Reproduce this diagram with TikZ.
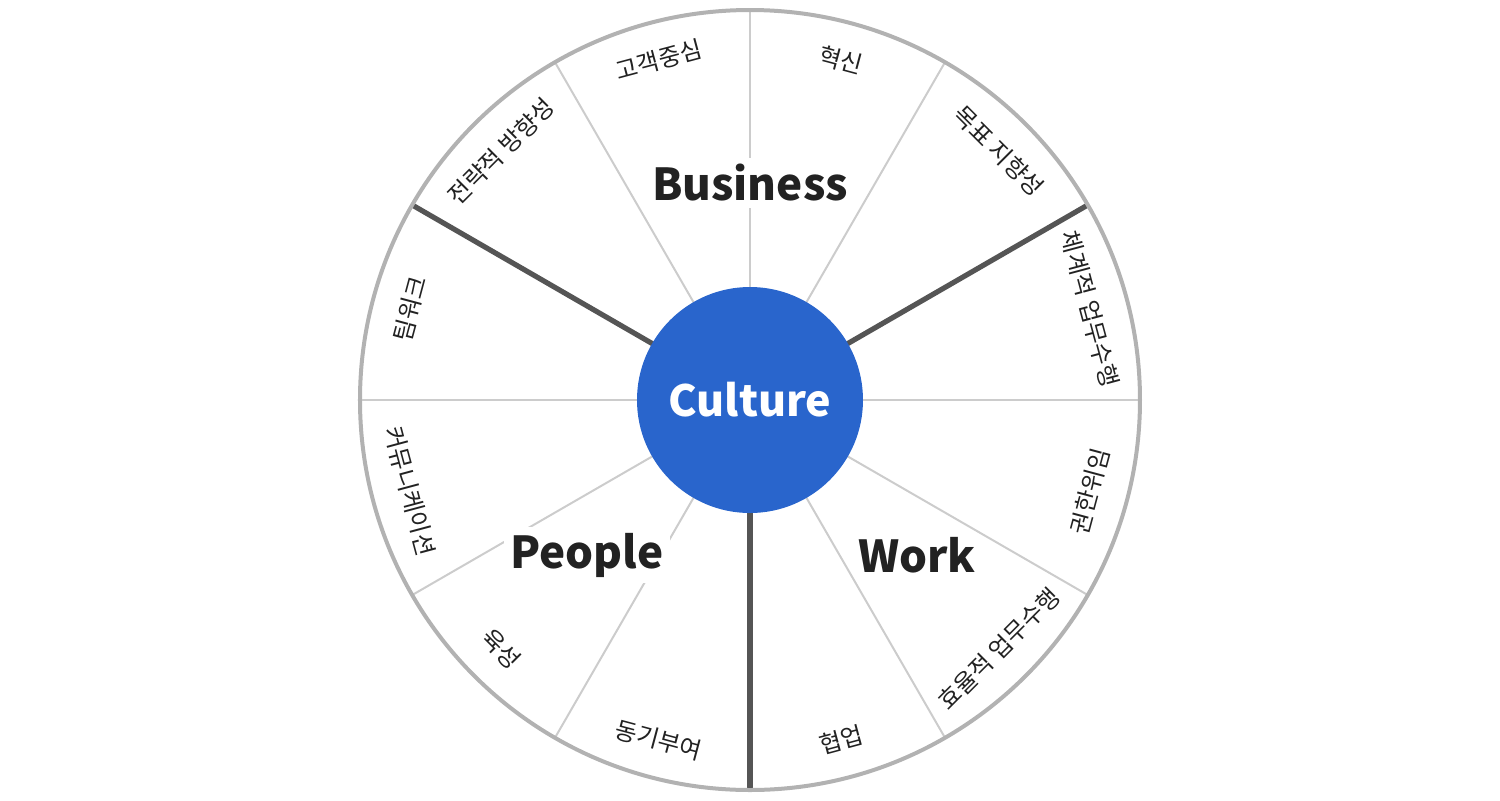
\documentclass[tikz,border=0pt]{standalone}
\usepackage{fontspec}
\setmainfont{Noto Sans CJK KR}
\newfontfamily\krfont{Noto Sans CJK KR}
\definecolor{hubblue}{RGB}{41,101,204}
\definecolor{rimgrey}{RGB}{178,178,178}
\definecolor{thingrey}{RGB}{204,204,204}
\definecolor{thickgrey}{RGB}{85,85,85}
\definecolor{txt}{RGB}{34,34,34}
\begin{document}
\begin{tikzpicture}[x=0.5pt,y=0.5pt,
  thin spoke/.style={draw=thingrey,line width=1pt},
  thick spoke/.style={draw=thickgrey,line width=2.6pt},
  rim/.style={draw=rimgrey,line width=2pt},
  lbl/.style={font=\krfont\fontsize{12}{14}\selectfont,text=txt,inner sep=0pt},
  group/.style={font=\krfont\bfseries\fontsize{22}{26}\selectfont,text=txt,fill=white,inner sep=3pt},
  hub/.style={circle,fill=hubblue,minimum size=113pt,inner sep=0pt,text=white,font=\krfont\bfseries\fontsize{21.5}{25}\selectfont}]
\useasboundingbox (-750,-400) rectangle (750,400);
\coordinate (o) at (0,0);
\foreach \a in {0,60,90,120,180,210,240,300,330}
  \draw[thin spoke] (o) -- (\a:390);
\node[group] (business) at (0,217) {Business};
\node[group] (people) at (-163,-155) {People};
\node[group,inner sep=0.5pt] (work) at (167,-155) {Work};
\foreach \a in {30,150,270}
  \draw[thick spoke] (o) -- (\a:390);
\draw[rim] (o) circle[radius=390];
\node[hub] (c) at (o) {Culture};
\foreach \a/\t [count=\i] in {105/고객중심, 75/혁신, 45/목표 지향성, 15/체계적 업무수행, 135/전략적 방향성, 165/팀워크}
  \node[lbl,rotate=\a-90] (u\i) at (\a:352) {\t};
\foreach \a/\t [count=\i] in {-15/권한위임, -45/효율적 업무수행, -75/협업, -105/동기부여, -135/육성, -165/커뮤니케이션}
  \node[lbl,rotate=\a+90] (d\i) at (\a:352) {\t};
\end{tikzpicture}
\end{document}
